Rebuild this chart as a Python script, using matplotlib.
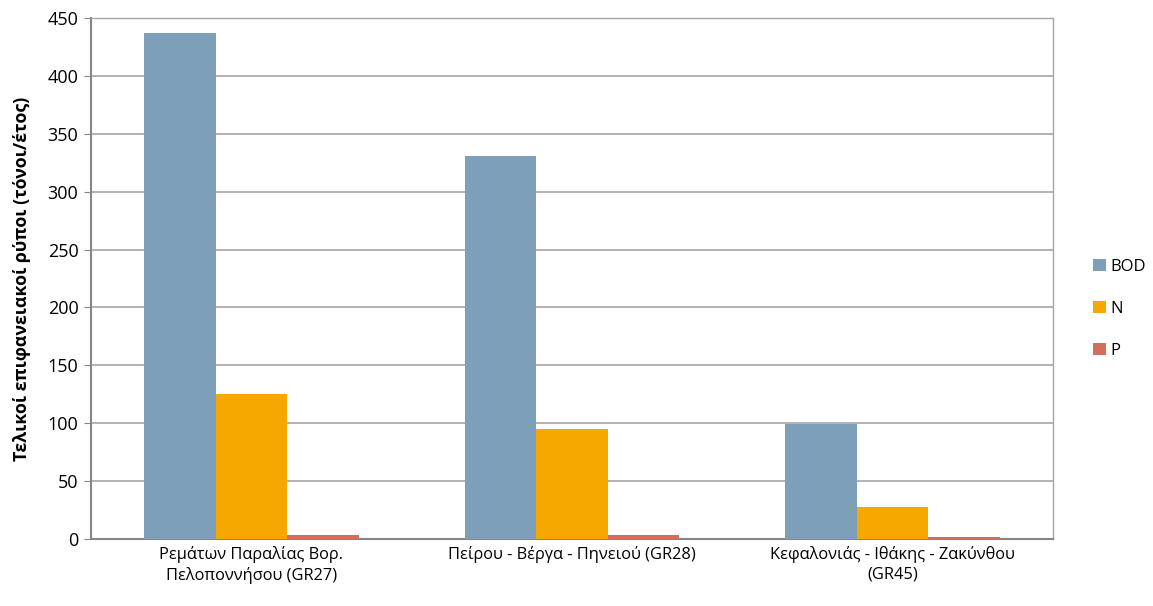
import matplotlib
matplotlib.use('Agg')
import matplotlib.pyplot as plt
import numpy as np

plt.rcParams['font.family'] = ['Open Sans', 'DejaVu Sans']

# Surface pollutant loads per river basin district
categories = ['Ρεμάτων Παραλίας Βορ.\nΠελοποννήσου (GR27)',
              'Πείρου - Βέργα - Πηνειού (GR28)',
              'Κεφαλονιάς - Ιθάκης - Ζακύνθου\n(GR45)']
series = ['BOD', 'N', 'P']
bod = [437, 331, 99]
nitrogen = [125, 95, 28]
phosphorus = [3.5, 3.5, 2]
colors = ['#7d9fb9', '#f6a800', '#d46e5c']

fig = plt.figure(figsize=(11.53, 6.06), dpi=100)
ax = fig.add_axes([91 / 1153, 1 - 539 / 606, (1053 - 91) / 1153, (539 - 18) / 606])

x = np.arange(len(categories))
width = 0.223
for i, (name, vals, c) in enumerate(zip(series, [bod, nitrogen, phosphorus], colors)):
    ax.bar(x + (i - 1) * width, vals, width, color=c, label=name, zorder=3)

ax.set_xlim(-0.5, 2.5)
ax.set_ylim(0, 450)
ax.set_yticks(np.arange(0, 451, 50))
ax.grid(axis='y', color='#a6a6a6', linewidth=1.2, zorder=0)
ax.set_xticks(x)
ax.set_xticklabels(categories, fontsize=11.8, linespacing=1.3)
ax.tick_params(axis='x', length=0, pad=5)
ax.tick_params(axis='y', labelsize=13, length=5, color='#868686', direction='out', pad=4)
for s in ['left', 'bottom']:
    ax.spines[s].set_color('#868686')
    ax.spines[s].set_linewidth(1.5)
for s in ['top', 'right']:
    ax.spines[s].set_color('#a6a6a6')
    ax.spines[s].set_linewidth(1.0)

ax.set_ylabel('Τελικοί επιφανειακοί ρύποι (τόνοι/έτος)', fontsize=12.8,
              fontweight='bold', labelpad=12)

ax.legend(loc='center left', bbox_to_anchor=(1078 / 1153, 1 - 309 / 606),
          bbox_transform=fig.transFigure, frameon=False, fontsize=12,
          handlelength=0.75, handleheight=0.75, handletextpad=0.3, labelspacing=1.55)

fig.savefig('out.png', dpi=100)
